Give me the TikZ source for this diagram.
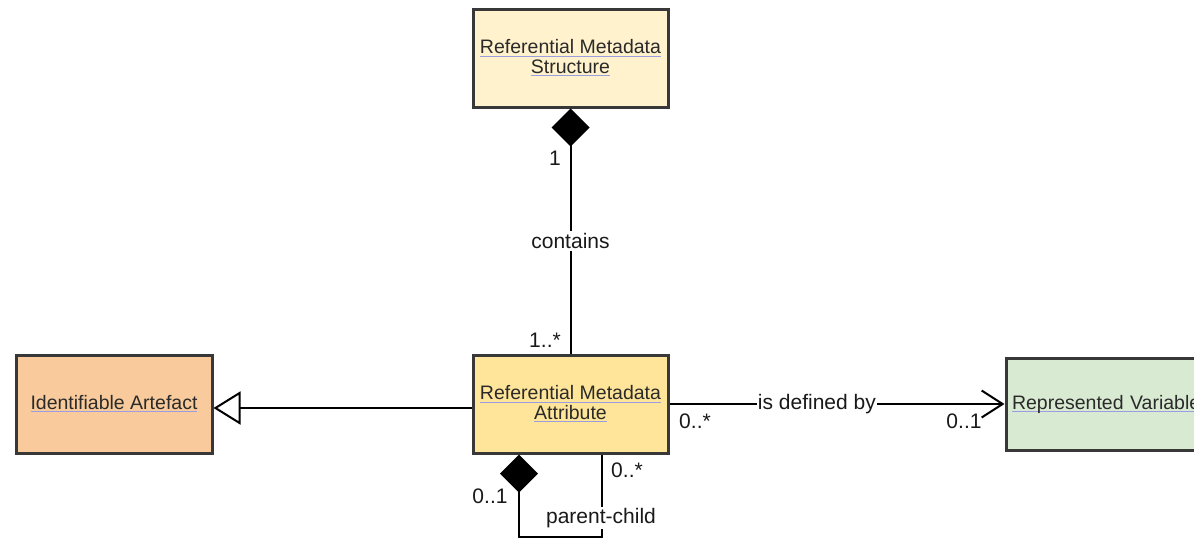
\documentclass[tikz,border=0pt]{standalone}
\usepackage{fontspec}
\setmainfont{Liberation Sans}
\usetikzlibrary{arrows.meta}
\definecolor{bordercol}{HTML}{383838}
\definecolor{txtcol}{HTML}{2A2A2A}
\definecolor{ulcol}{HTML}{9C9CE0}
\definecolor{rmsfill}{HTML}{FFF2CC}
\definecolor{rmafill}{HTML}{FFE599}
\definecolor{iafill}{HTML}{F9CB9C}
\definecolor{rvfill}{HTML}{D9EAD3}
\newcommand\bxfont{\fontsize{19.5}{19.5}\selectfont}
\newcommand\lbfont{\fontsize{21}{22}\selectfont}
\newcommand\lnk[1]{\setbox0\hbox{#1}\rlap{\color{ulcol}\rule[-2.8pt]{\wd0}{1.2pt}}\box0}
\tikzset{
  cls/.style={draw=bordercol, line width=3pt, minimum width=195pt, minimum height=98pt,
    align=center, font=\bxfont, text=txtcol, inner sep=0pt},
  conn/.style={line width=2pt, draw=black},
  lbl/.style={font=\lbfont, text=black!90, inner sep=1pt},
  onlbl/.style={lbl, fill=white, inner sep=2pt},
  compo/.style={{Diamond[length=38pt,width=38pt]}-},
}
\begin{document}
\begin{tikzpicture}[x=1pt,y=-1pt]
\useasboundingbox (0,0) rectangle (1194,539);
\clip (0,0) rectangle (1194,539);
\fill[white] (0,0) rectangle (1194,539);

\node[cls, fill=rmsfill] (RMS) at (570.5,58) {\lnk{Referential Metadata}\\\lnk{Structure}};
\node[cls, fill=rmafill] (RMA) at (570.5,404) {\lnk{Referential Metadata}\\\lnk{Attribute}};
\node[cls, fill=iafill, minimum width=196pt] (IA) at (114,404) {\lnk{Identifiable Artefact}};
\node[cls, fill=rvfill, minimum width=194pt, minimum height=92pt, text width=182pt, align=left] (RV) at (1103,404) {\lnk{Represented Variable}};

% contains
\draw[conn, compo] (RMS.south) -- (RMA.north)
  node[onlbl, pos=0.54] (containslbl) {contains};
\node[lbl] (m1) at (555,158) {1};
\node[lbl] (m1s) at (545,340) {1..*};

% generalization
\draw[conn, -{Triangle[open, length=27pt, width=33pt, line width=2pt]}]
  ([yshift=-4pt]RMA.west) -- ([yshift=-4pt]IA.east);

% is defined by
\draw[conn, -{Straight Barb[length=21pt, width=27pt, line width=2pt]}]
  (RMA.east) -- (RV.west)
  node[onlbl, pos=0.44, inner sep=1pt] (deflbl) {is defined by};
\node[lbl] (m0s) at (695,421) {0..*};
\node[lbl] (m01) at (964,421) {0..1};

% parent-child self association
\coordinate (loopL) at (519,537);
\coordinate (loopR) at (602,537);
\draw[conn, compo] (RMA.south -| loopL) -- (loopL) -- (loopR) -- (RMA.south -| loopR);
\node[onlbl, inner sep=1pt] (pclbl) at (601,518) {parent-child};
\node[lbl] (m01b) at (490,496) {0..1};
\node[lbl] (m0sb) at (627,470) {0..*};
\end{tikzpicture}
\end{document}
